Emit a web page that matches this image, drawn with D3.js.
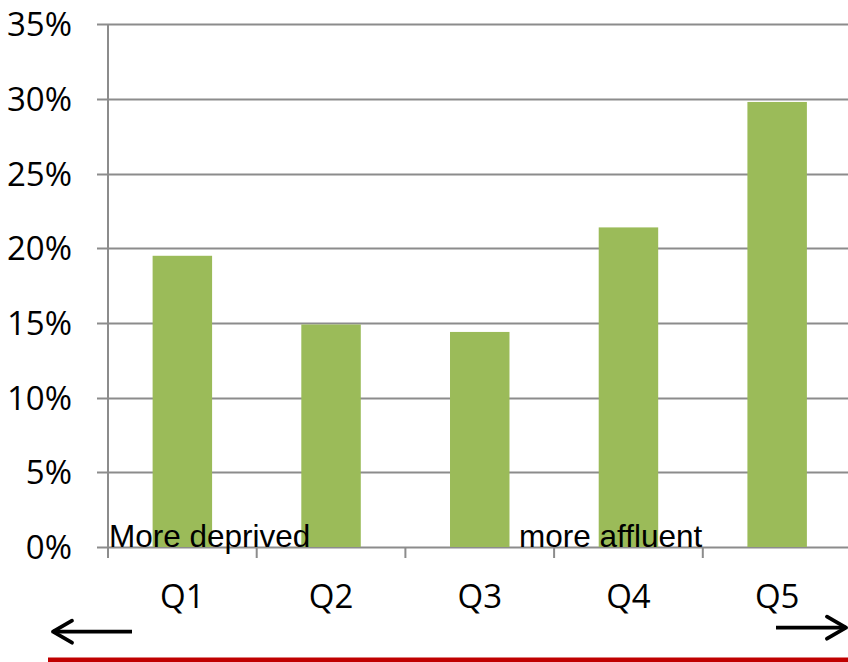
<!DOCTYPE html>
<html>
<head>
<meta charset="utf-8">
<script src="https://cdn.jsdelivr.net/npm/d3@7"></script>
<style>
  html, body { margin: 0; padding: 0; background: #fff; }
  svg { display: block; }
</style>
</head>
<body>
<svg id="chart" width="848" height="662"></svg>
<script>
// Share by deprivation quintile
const categories = ["Q1", "Q2", "Q3", "Q4", "Q5"];
const values = [0.195, 0.149, 0.144, 0.214, 0.298];
const yTicks = [0, 0.05, 0.10, 0.15, 0.20, 0.25, 0.30, 0.35];
const leftNote = "More deprived";
const rightNote = "more affluent";

const W = 848, H = 662;
const plot = { left: 108, right: 851.5, top: 24.3, bottom: 547 };

const svg = d3.select("#chart");

const x = d3.scaleBand()
  .domain(categories)
  .range([plot.left, plot.right])
  .paddingInner(0.6)
  .paddingOuter(0.3);

const y = d3.scaleLinear()
  .domain([0, 0.35])
  .range([plot.bottom, plot.top]);

const gridColor = "#8c8c8c";
const labelFont = "'Open Sans', sans-serif";
const labelSize = 33;

// horizontal gridlines (with the short left tick stub)
svg.append("g")
  .selectAll("line")
  .data(yTicks)
  .join("line")
  .attr("x1", plot.left - 11)
  .attr("x2", W)
  .attr("y1", d => Math.round(y(d)) + 0.5)
  .attr("y2", d => Math.round(y(d)) + 0.5)
  .attr("stroke", gridColor)
  .attr("stroke-width", 2);

// y tick labels
svg.append("g")
  .selectAll("text")
  .data(yTicks)
  .join("text")
  .attr("x", 72)
  .attr("y", d => y(d))
  .attr("dy", "0.36em")
  .attr("text-anchor", "end")
  .attr("font-family", labelFont)
  .attr("font-size", labelSize)
  .attr("fill", "#000")
  .text(d3.format(".0%"));

// y axis line
svg.append("line")
  .attr("x1", plot.left).attr("x2", plot.left)
  .attr("y1", plot.top).attr("y2", plot.bottom + 11)
  .attr("stroke", gridColor).attr("stroke-width", 2);

// category boundary ticks
const boundaries = d3.range(categories.length + 1)
  .map(i => plot.left + i * (plot.right - plot.left) / categories.length);
svg.append("g")
  .selectAll("line")
  .data(boundaries)
  .join("line")
  .attr("x1", d => d).attr("x2", d => d)
  .attr("y1", plot.bottom).attr("y2", plot.bottom + 11)
  .attr("stroke", gridColor).attr("stroke-width", 2);

// bars
svg.append("g")
  .selectAll("rect")
  .data(categories.map((c, i) => ({ c, v: values[i] })))
  .join("rect")
  .attr("x", d => x(d.c))
  .attr("width", x.bandwidth())
  .attr("y", d => y(d.v))
  .attr("height", d => y(0) - y(d.v))
  .attr("fill", "#9bbb59");

// category labels
svg.append("g")
  .selectAll("text")
  .data(categories)
  .join("text")
  .attr("x", d => x(d) + x.bandwidth() / 2)
  .attr("y", 608)
  .attr("text-anchor", "middle")
  .attr("font-family", labelFont)
  .attr("font-size", labelSize)
  .attr("fill", "#000")
  .text(d => d);

// direction notes
svg.append("text")
  .attr("x", 109).attr("y", 546.5)
  .attr("font-family", "'Liberation Sans', Arial, sans-serif")
  .attr("font-size", 31.5)
  .attr("fill", "#000")
  .text(leftNote);
svg.append("text")
  .attr("x", 519).attr("y", 546.5)
  .attr("font-family", "'Liberation Sans', Arial, sans-serif")
  .attr("font-size", 31.5)
  .attr("fill", "#000")
  .text(rightNote);

// arrows
function arrow(x1, x2, yy, dir) {
  const g = svg.append("g").attr("stroke", "#000").attr("stroke-width", 3.8)
    .attr("fill", "none").attr("stroke-linecap", "round").attr("stroke-linejoin", "round");
  g.append("line").attr("x1", x1).attr("x2", x2).attr("y1", yy).attr("y2", yy)
    .attr("stroke-linecap", "butt");
  const tip = dir < 0 ? x1 : x2;
  const back = tip - dir * 19;
  g.append("path").attr("d", `M${back},${yy - 11}L${tip},${yy}L${back},${yy + 11}`);
}
arrow(53, 132, 631.7, -1);
arrow(776, 846, 627.7, 1);

// red rule along the bottom
svg.append("rect")
  .attr("x", 48).attr("y", 657.5)
  .attr("width", W - 48).attr("height", 5)
  .attr("fill", "#c00000");
</script>
</body>
</html>
